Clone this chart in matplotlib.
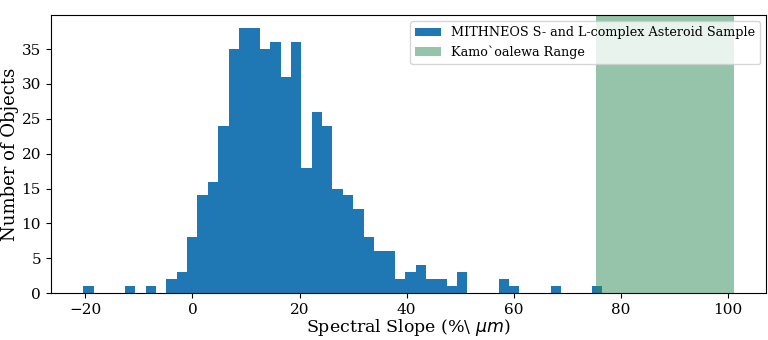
import numpy as np
import matplotlib
matplotlib.use("Agg")
import matplotlib.pyplot as plt

plt.rcParams['font.family'] = ['DejaVu Serif']

# Histogram data (50 bins)
slope_min = -20.4
slope_max = 76.55
n_bins = 50
counts = [1, 0, 0, 0, 1, 0, 1, 0, 2, 3,
          8, 14, 16, 24, 35, 38, 38, 35, 36, 31,
          36, 18, 26, 24, 15, 14, 12, 8, 6, 6,
          2, 3, 4, 2, 2, 1, 3, 0, 0, 0,
          2, 1, 0, 0, 0, 1, 0, 0, 0, 1]
kamo_range = (75.4, 101.1)

edges = np.linspace(slope_min, slope_max, n_bins + 1)
centers = 0.5 * (edges[:-1] + edges[1:])

fig, ax = plt.subplots(figsize=(7.68, 3.40), dpi=100)
fig.subplots_adjust(left=0.066, right=0.998, top=0.956, bottom=0.138)

ax.hist(centers, bins=edges, weights=counts, color='#1f77b4',
        label='MITHNEOS S- and L-complex Asteroid Sample')
ax.axvspan(kamo_range[0], kamo_range[1], color='seagreen', alpha=0.5,
           lw=0, label='Kamo`oalewa Range')

ax.set_xlabel(r'Spectral Slope (%\ $\mu m$)', fontsize=12.5, labelpad=0.5)
ax.set_ylabel('Number of Objects', fontsize=13, labelpad=2)
ax.tick_params(labelsize=11)
ax.legend(loc='upper right', fontsize=9.2)

fig.savefig('out.png', dpi=100)
